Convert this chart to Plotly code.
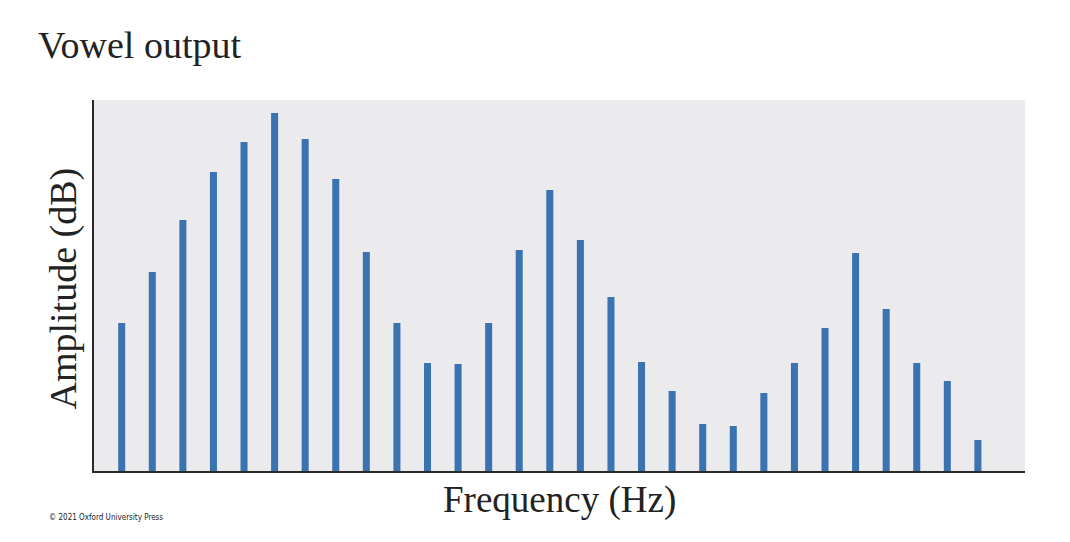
import plotly.graph_objects as go

harmonics = list(range(1, 30))
amplitude = [148, 199, 251, 299, 329, 358, 332, 292, 219, 148, 108, 107, 148, 221,
             281, 231, 174, 109, 80, 47, 45, 78, 108, 143, 218, 162, 108, 90, 31]

title_text = "Vowel output"
x_label = "Frequency (Hz)"
y_label = "Amplitude (dB)"
credit = "© 2021 Oxford University Press"

serif = "Liberation Serif, DejaVu Serif, serif"

fig = go.Figure(go.Bar(x=harmonics, y=amplitude, width=0.23,
                       marker=dict(color="#3a73b0", line=dict(width=0))))

fig.update_layout(
    width=1070, height=542,
    margin=dict(l=86, r=53, t=92, b=79),
    paper_bgcolor="white",
    plot_bgcolor="#ebebed",
    showlegend=False,
    xaxis=dict(range=[0.094, 30.54], showticklabels=False, ticks="", showgrid=False,
               zeroline=False, showline=True, linecolor="#2a2a2a", linewidth=2),
    yaxis=dict(range=[0, 371], showticklabels=False, ticks="", showgrid=False,
               zeroline=False, showline=True, linecolor="#2a2a2a", linewidth=2),
    annotations=[
        dict(text=title_text, xref="paper", yref="paper", x=0, y=1, xshift=-58, yshift=55,
             xanchor="left", yanchor="middle", showarrow=False,
             font=dict(family=serif, size=38, color="#222")),
        dict(text=x_label, xref="paper", yref="paper", x=0.5, y=0, yshift=-29,
             xanchor="center", yanchor="middle", showarrow=False,
             font=dict(family=serif, size=37, color="#222")),
        dict(text=y_label, xref="paper", yref="paper", x=0, y=0.5, xshift=-31, yshift=-3,
             xanchor="center", yanchor="middle", textangle=-90, showarrow=False,
             font=dict(family=serif, size=38, color="#222")),
        dict(text=credit, xref="paper", yref="paper", x=0, y=0, xshift=-47, yshift=-46,
             xanchor="left", yanchor="middle", showarrow=False,
             font=dict(family="DejaVu Sans Condensed, Liberation Sans Narrow, sans-serif",
                       size=8, color="#222")),
    ],
)

fig.write_html("out.html")
